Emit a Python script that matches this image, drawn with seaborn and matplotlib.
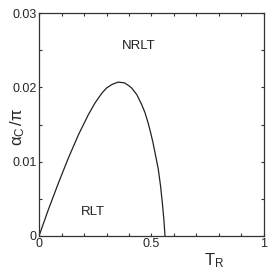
import numpy as np
import pandas as pd
import seaborn as sns
import matplotlib
matplotlib.use('Agg')
import matplotlib.pyplot as plt

# phase boundary
t_r = [0.0, 0.020, 0.041, 0.086, 0.130, 0.175, 0.219, 0.249, 0.279, 0.300,
       0.325, 0.352, 0.380, 0.400, 0.412, 0.435, 0.456, 0.471, 0.486, 0.497,
       0.507, 0.519, 0.530, 0.540, 0.548, 0.555, 0.560]
alpha_c = [0.0, 0.0017, 0.0035, 0.0071, 0.01045, 0.0136, 0.0163, 0.0179, 0.0192, 0.0199,
           0.0204, 0.0207, 0.0206, 0.0202, 0.0199, 0.0190, 0.0177, 0.0166, 0.0151, 0.0138,
           0.0125, 0.0107, 0.0090, 0.0068, 0.0045, 0.0022, 0.0]

regions = ['NRLT', 'RLT']
region_x = [0.444, 0.238]
region_y = [0.0256, 0.0032]

x_ticks = [0, 0.5, 1]
x_tick_labels = ['0', '0.5', '1']
y_ticks = [0, 0.01, 0.02, 0.03]
y_tick_labels = ['0', '0.01', '0.02', '0.03']

sns.set_style('ticks')
plt.rcParams['font.family'] = ['Liberation Sans', 'DejaVu Sans']
plt.rcParams['mathtext.fontset'] = 'custom'
plt.rcParams['mathtext.rm'] = 'Liberation Sans'
plt.rcParams['mathtext.it'] = 'Liberation Sans'

df = pd.DataFrame({'T_R': t_r, 'alpha': alpha_c})

fig = plt.figure(figsize=(2.73, 2.75), dpi=100)
ax = fig.add_axes([39/273, 1-236/275, 225/273, 223/275])

sns.lineplot(data=df, x='T_R', y='alpha', sort=False, color='#222222', linewidth=0.9, ax=ax)

for name, x, y in zip(regions, region_x, region_y):
    ax.text(x, y, name, ha='center', va='center', fontsize=9.5, color='#222222')

ax.set_xlim(0, 1)
ax.set_ylim(0, 0.03)
ax.set_xticks(x_ticks)
ax.set_xticklabels(x_tick_labels)
ax.set_yticks(y_ticks)
ax.set_yticklabels(y_tick_labels)
ax.set_xticks(np.arange(0.1, 1.0, 0.1), minor=True)
ax.set_yticks(np.arange(0.005, 0.03, 0.01), minor=True)
ax.tick_params(which='both', direction='in', length=2.5, width=0.8, color='#333333',
               top=True, right=True, labelsize=9, pad=1.5)
for s in ax.spines.values():
    s.set_linewidth(0.9)
    s.set_color('#333333')

ax.set_xlabel(r'T$_\mathregular{R}$', fontsize=12)
ax.set_ylabel(r'$\alpha_\mathregular{C}\,/\pi$', fontsize=12)
ax.xaxis.set_label_coords(0.78, -0.07)
ax.yaxis.set_label_coords(-0.055, 0.49)

fig.savefig('out.png', dpi=100)
